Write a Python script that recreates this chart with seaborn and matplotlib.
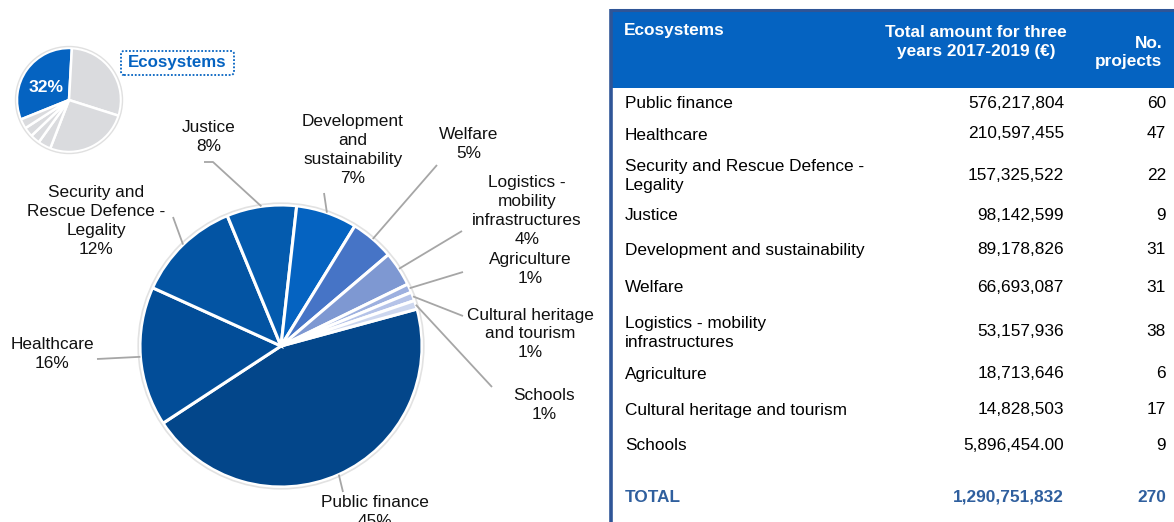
import numpy as np
import matplotlib
matplotlib.use("Agg")
import matplotlib.pyplot as plt
from matplotlib.patches import Rectangle, FancyBboxPatch, Circle
import seaborn as sns

# ---- data -------------------------------------------------------------
ecosystems = ["Public finance", "Healthcare", "Security and Rescue Defence - Legality",
              "Justice", "Development and sustainability", "Welfare",
              "Logistics - mobility infrastructures", "Agriculture",
              "Cultural heritage and tourism", "Schools"]
amounts = [576217804, 210597455, 157325522, 98142599, 89178826,
           66693087, 53157936, 18713646, 14828503, 5896454.00]
amount_decimals = [0, 0, 0, 0, 0, 0, 0, 0, 0, 2]
projects = [60, 47, 22, 9, 31, 31, 38, 6, 17, 9]
# share of the total (%) shown on each slice
shares = [45, 16, 12, 8, 7, 5, 4, 1, 1, 1]

pie_names = ["Public finance", "Healthcare", "Security and\nRescue Defence -\nLegality",
             "Justice", "Development\nand\nsustainability", "Welfare",
             "Logistics -\nmobility\ninfrastructures", "Agriculture",
             "Cultural heritage\nand tourism", "Schools"]
table_names = ["Public finance", "Healthcare", "Security and Rescue Defence -\nLegality",
               "Justice", "Development and sustainability", "Welfare",
               "Logistics - mobility\ninfrastructures", "Agriculture",
               "Cultural heritage and tourism", "Schools"]
header_cols = ["Ecosystems", "Total amount for three\nyears 2017-2019 (\u20ac)", "No.\nprojects"]

# overview pie: ecosystems vs. the other groups
overview_shares = [32, 29, 26, 4, 3, 3, 3]
overview_title = "Ecosystems"

# ---- styling ------------------------------------------------------------
sns.set_theme(style="white")
plt.rcParams["font.family"] = ["Liberation Sans", "DejaVu Sans"]

pie_colors = sns.color_palette(["#03468A", "#024D98", "#0354A3", "#045BAE", "#0563C1",
                                "#4674C6", "#7E98D2", "#9DB0DF", "#B5C3E8", "#CDD7EF"])
accent = "#0563C1"
border = "#2F5597"
total_color = "#2F5F9E"
leader_color = "#A6A6A6"
fs = 12.4
ls = 1.33

W, H = 1174, 522
fig = plt.figure(figsize=(W / 100, H / 100), dpi=100)
ax = fig.add_axes([0, 0, 1, 1])


def Y(py):
    return H - py


# ---- main pie -----------------------------------------------------------
cx, cy, r = 281, Y(346), 141
wedges, _ = ax.pie(shares, colors=pie_colors, startangle=15.2, counterclock=False,
                   center=(cx, cy), radius=r,
                   wedgeprops=dict(edgecolor="white", linewidth=2.2))
ax.add_patch(Circle((cx, cy), r + 1.8, fill=False, edgecolor="#E2E2E2", lw=1.2))

label_pos = [(375, 512), (52, 354), (96, 221), (209, 137), (353, 150),
             (469, 144), (527, 211), (530, 269), (530, 334), (544, 405)]
leader_start = [[(343, 492)], [(97, 359)], [(173, 217)], [(204, 162), (213, 162)],
                [(324, 193)], [(437, 165)], [(462, 231)], [(463, 272)],
                [(463, 316)], [(492, 387)]]

for w, name, share, (lx, ly), pts in zip(wedges, pie_names, shares, label_pos, leader_start):
    mid = np.deg2rad(0.5 * (w.theta1 + w.theta2))
    ex, ey = cx + r * np.cos(mid), cy + r * np.sin(mid)
    xs = [p[0] for p in pts] + [ex]
    ys = [Y(p[1]) for p in pts] + [ey]
    ax.plot(xs, ys, color=leader_color, lw=1.3, solid_capstyle="butt", zorder=1)
    ax.text(lx, Y(ly), f"{name}\n{share}%", ha="center", va="center",
            multialignment="center", fontsize=fs, color="#111111", linespacing=ls)

# ---- overview pie ---------------------------------------------------------
ocx, ocy, orad = 69, Y(100), 52
ow, _ = ax.pie(overview_shares, colors=[accent] + ["#DADBDE"] * (len(overview_shares) - 1),
               startangle=202, counterclock=False, center=(ocx, ocy), radius=orad,
               wedgeprops=dict(edgecolor="white", linewidth=1.8))
ax.add_patch(Circle((ocx, ocy), orad + 1.5, fill=False, edgecolor="#E0E0E0", lw=1.0))
ax.text(46, Y(87), f"{overview_shares[0]}%", ha="center", va="center",
        fontsize=12.6, fontweight="bold", color="white")
ax.add_patch(FancyBboxPatch((121, Y(75)), 113, 24,
                            boxstyle="round,pad=0,rounding_size=3", fill=False,
                            edgecolor=accent, linestyle=(0, (1, 1)), lw=1.3))
ax.text(177.5, Y(63), overview_title, ha="center", va="center", fontsize=12.2,
        fontweight="bold", color=accent)

# ---- table ------------------------------------------------------------------
ax.add_patch(Rectangle((612, Y(88)), W - 612, 78, facecolor=accent, edgecolor="none"))
ax.plot([611, W], [Y(10), Y(10)], color=border, lw=2.2, solid_capstyle="butt")
ax.plot([611, 611], [Y(9), Y(H)], color=border, lw=2.6, solid_capstyle="butt")

ax.text(624, Y(30), header_cols[0], ha="left", va="center", fontsize=fs,
        fontweight="bold", color="white")
ax.text(976, Y(42), header_cols[1], ha="center", va="center", multialignment="center",
        fontsize=fs, fontweight="bold", color="white", linespacing=ls)
ax.text(1162, Y(52.5), header_cols[2], ha="right", va="center", multialignment="right",
        fontsize=fs, fontweight="bold", color="white", linespacing=ls)

row_y = [104, 135, 176, 216, 251, 288, 333, 374, 410, 446]
x_name, x_amount, x_count = 625, 1064, 1166
for name, amt, dec, n, yy in zip(table_names, amounts, amount_decimals, projects, row_y):
    ax.text(x_name, Y(yy), name, ha="left", va="center", fontsize=fs,
            color="black", linespacing=ls)
    ax.text(x_amount, Y(yy - 1), f"{amt:,.{dec}f}", ha="right", va="center",
            fontsize=fs, color="black")
    ax.text(x_count, Y(yy - 1), f"{n}", ha="right", va="center", fontsize=fs, color="black")

total_y = 497
ax.text(x_name, Y(total_y), "TOTAL", ha="left", va="center", fontsize=fs,
        fontweight="bold", color=total_color)
ax.text(x_amount, Y(total_y), f"{sum(amounts):,.0f}", ha="right", va="center",
        fontsize=fs, fontweight="bold", color=total_color)
ax.text(x_count, Y(total_y), f"{sum(projects)}", ha="right", va="center",
        fontsize=fs, fontweight="bold", color=total_color)

ax.set_xlim(0, W)
ax.set_ylim(0, H)
ax.set_aspect("equal")
ax.axis("off")

fig.savefig("out.png", dpi=100)
